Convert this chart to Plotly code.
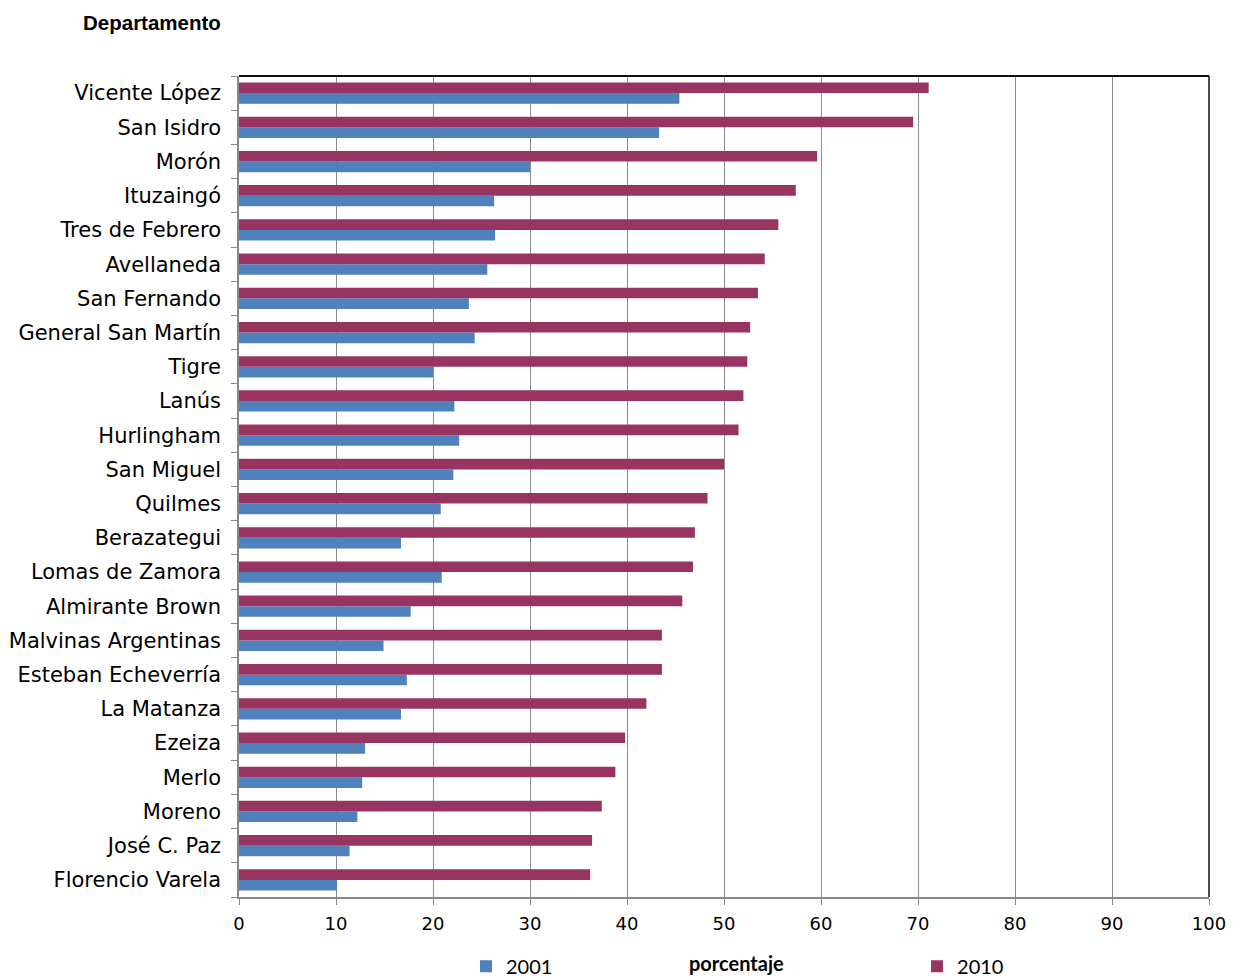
import plotly.graph_objects as go

departamentos = ["Vicente López", "San Isidro", "Morón", "Ituzaingó", "Tres de Febrero",
                 "Avellaneda", "San Fernando", "General San Martín", "Tigre", "Lanús",
                 "Hurlingham", "San Miguel", "Quilmes", "Berazategui", "Lomas de Zamora",
                 "Almirante Brown", "Malvinas Argentinas", "Esteban Echeverría", "La Matanza",
                 "Ezeiza", "Merlo", "Moreno", "José C. Paz", "Florencio Varela"]
v2001 = [45.4, 43.3, 30.0, 26.3, 26.4, 25.6, 23.7, 24.3, 20.0, 22.2, 22.7, 22.1, 20.8,
         16.7, 20.9, 17.7, 14.9, 17.3, 16.7, 13.0, 12.7, 12.2, 11.4, 10.1]
v2010 = [71.1, 69.5, 59.6, 57.4, 55.6, 54.2, 53.5, 52.7, 52.4, 52.0, 51.5, 50.0, 48.3,
         47.0, 46.8, 45.7, 43.6, 43.6, 42.0, 39.8, 38.8, 37.4, 36.4, 36.2]
x_ticks = [0, 10, 20, 30, 40, 50, 60, 70, 80, 90, 100]

fig = go.Figure()
fig.add_trace(go.Bar(y=departamentos, x=v2001, name="2001", orientation="h",
                     legend="legend",
                     marker=dict(color="#4F81BD", line=dict(width=0))))
fig.add_trace(go.Bar(y=departamentos, x=v2010, name="2010", orientation="h",
                     legend="legend2",
                     marker=dict(color="#983462", line=dict(width=0))))

leg_font = dict(family="Lato", size=20, color="black")
fig.update_layout(
    width=1243, height=980,
    margin=dict(l=239, r=34, t=76, b=83, autoexpand=False),
    paper_bgcolor="white", plot_bgcolor="white",
    barmode="group", bargap=0.38, bargroupgap=0,
    font=dict(family="DejaVu Sans", color="black"),
    showlegend=True,
    legend=dict(x=0.234, xanchor="left", y=-0.0845, yanchor="middle",
                itemwidth=30, font=leg_font, bgcolor="rgba(0,0,0,0)"),
    legend2=dict(x=0.699, xanchor="left", y=-0.0845, yanchor="middle",
                 itemwidth=30, font=leg_font, bgcolor="rgba(0,0,0,0)"),
    annotations=[
        dict(text="<b>Departamento</b>", x=-0.0165, xref="paper", xanchor="right",
             y=1, yref="paper", yshift=54, yanchor="middle", showarrow=False,
             font=dict(family="Liberation Sans", size=20.5, color="black")),
        dict(text="<b>porcentaje</b>", x=0.513, xref="paper", xanchor="center",
             y=0, yref="paper", yshift=-66, yanchor="middle", showarrow=False,
             font=dict(family="Lato", size=20, color="black")),
    ],
    shapes=[
        dict(type="line", xref="paper", yref="paper", x0=0, x1=1, y0=1, y1=1,
             line=dict(color="#111111", width=2), layer="above"),
        dict(type="line", xref="paper", yref="paper", x0=1, x1=1, y0=0, y1=1,
             line=dict(color="#111111", width=1.5), layer="above"),
    ],
)

fig.update_xaxes(range=[0, 100], tickvals=x_ticks, showgrid=True, gridcolor="#8C8C8C",
                 gridwidth=1, showline=True, linecolor="#888888", linewidth=1.5,
                 ticks="outside", ticklen=6, tickcolor="#888888", zeroline=False,
                 ticklabelstandoff=4, automargin=False,
                 tickfont=dict(family="DejaVu Sans", size=18, color="black"))
fig.update_yaxes(categoryorder="array", categoryarray=departamentos[::-1],
                 showline=True, linecolor="#888888", linewidth=1.5,
                 ticks="outside", ticklen=6, tickcolor="#888888", showgrid=False,
                 tickson="boundaries", ticklabelstandoff=12, automargin=False,
                 tickfont=dict(family="DejaVu Sans", size=21, color="black"))

fig.write_html("out.html", config={"displayModeBar": False},
               post_script="document.body.style.margin='0px';document.body.style.overflow='hidden';")
